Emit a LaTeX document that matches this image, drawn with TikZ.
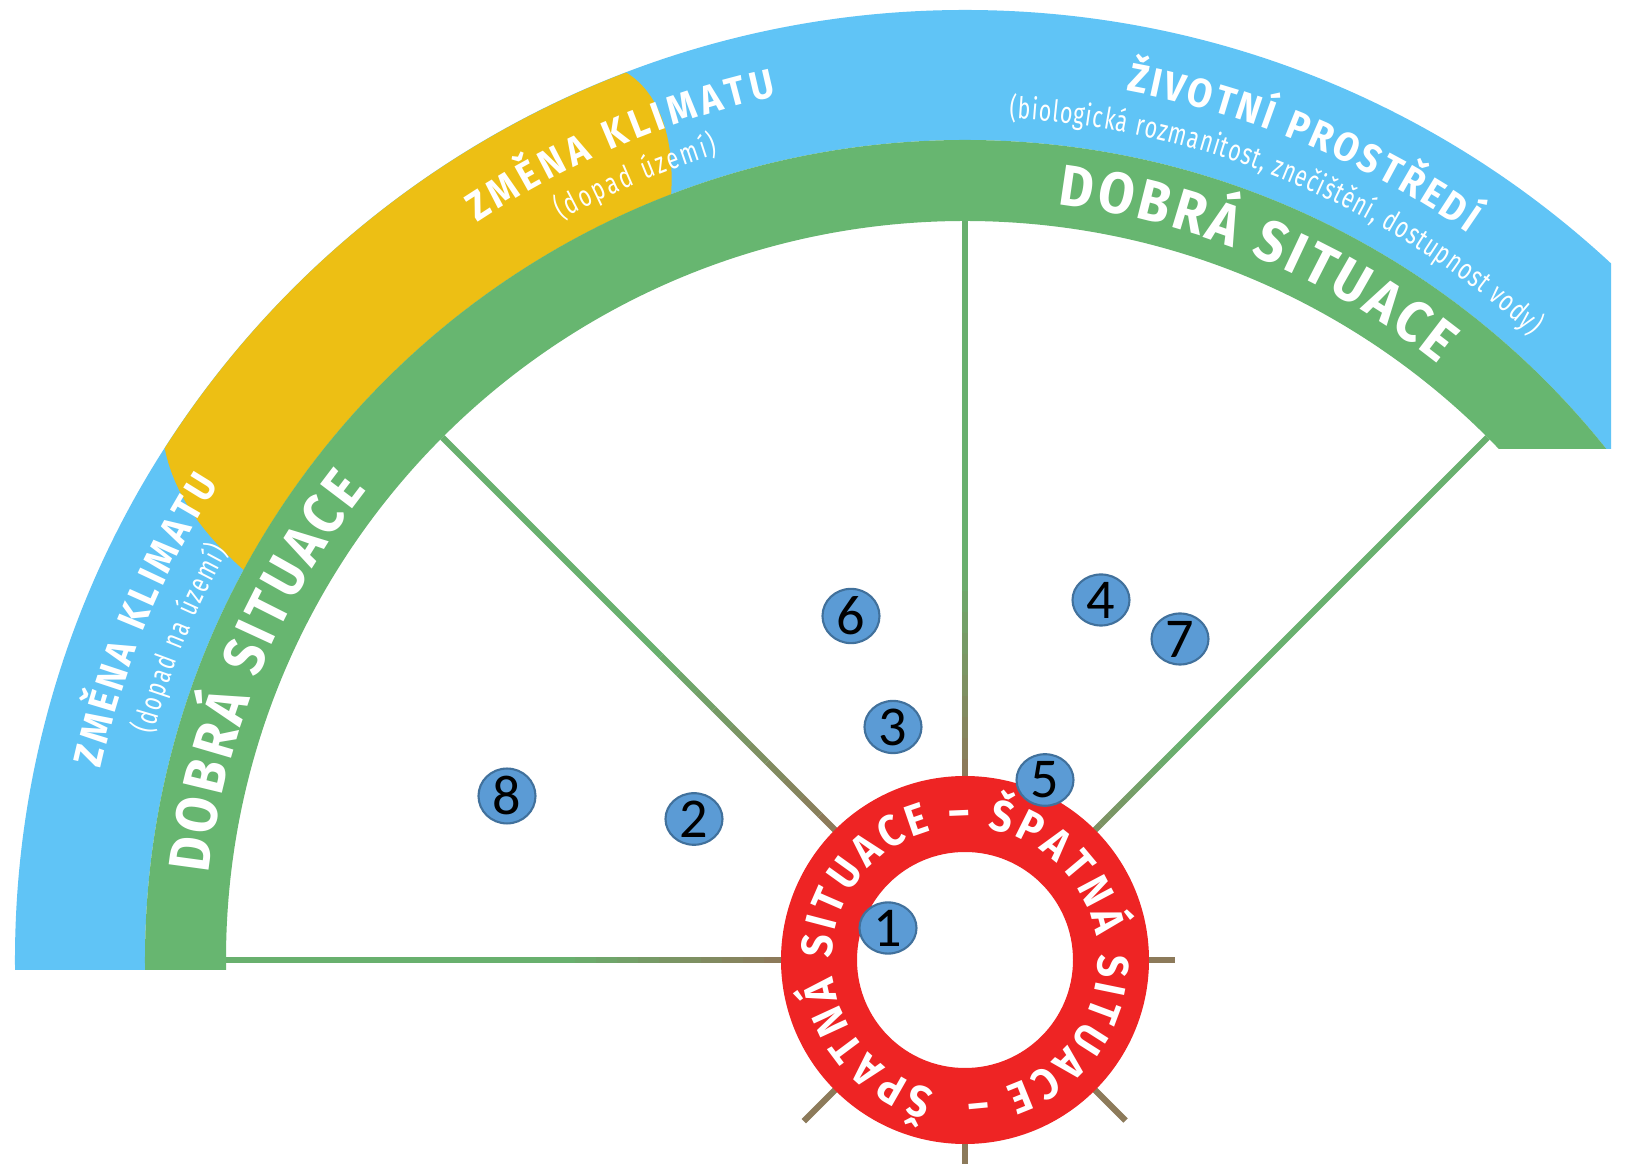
\documentclass[tikz,border=0pt]{standalone}
\usepackage{fontspec}
\usetikzlibrary{shapes.geometric, decorations.text}

\newfontfamily\bandfont[FakeStretch=0.9]{Fira Sans}
\newfontfamily\notefont[FakeStretch=0.72]{Fira Sans}
\newfontfamily\digitfont{Carlito}

\newcommand\dobrafont{\bandfont\bfseries\fontsize{16.5}{18}\selectfont}
\newcommand\titlefont{\bandfont\bfseries\fontsize{11.5}{13}\selectfont}
\newcommand\subfont{\notefont\fontsize{8.5}{10}\selectfont}
\newcommand\ringfont{\bandfont\bfseries\fontsize{12.5}{14}\selectfont}

\definecolor{blueband}{RGB}{96,196,246}
\definecolor{greenband}{RGB}{103,182,112}
\definecolor{yellowband}{RGB}{237,191,20}
\definecolor{ringred}{RGB}{238,36,36}
\definecolor{spokegreen}{RGB}{104,176,110}
\definecolor{spokebrown}{RGB}{140,122,90}
\definecolor{markblue}{RGB}{91,155,213}
\definecolor{markline}{RGB}{65,113,156}

\begin{document}
\begin{tikzpicture}[
	spoke/.style={line width=1.8pt},
	bubble/.style={ellipse, draw=markline, line width=0.6pt, fill=markblue, minimum width=0.57cm, minimum height=0.40cm, inner sep=0pt, font=\digitfont\fontsize{16}{16}\selectfont},
	bandtext/.style={decorate, decoration={text along path, text align=fit to path, text color=white, text={#1}}}]

	\useasboundingbox (-9.65,-2.04) rectangle (6.61,9.60);
	\fill[white] (-9.65,-2.04) rectangle (6.61,9.60);

	\begin{scope}
		\clip (-9.7,-0.10) -- (0,-0.10) -- (0,5.11) -- (6.46,5.11) -- (6.46,9.7) -- (-9.7,9.7) -- cycle;
		\fill[blueband, even odd rule] (0,0) circle (9.5) (0,0) circle (8.2);
		\fill[yellowband] (147.4:9.5) arc[start angle=147.4, end angle=110.9, radius=9.5] .. controls (-3.1,8.7) and (-2.9,8.3) .. (111:8.2) arc[start angle=111, end angle=151.6, radius=8.2] .. controls (-7.55,4.2) and (-7.9,4.6) .. cycle;
		\fill[greenband, even odd rule] (0,0) circle (8.2) (0,0) circle (7.39);
	\end{scope}

	\path[bandtext={|\dobrafont|DOBRÁ SITUACE}] (83:7.61) arc[start angle=83, end angle=51.5, radius=7.61];
	\path[bandtext={|\dobrafont|DOBRÁ SITUACE}] (173.5:7.61) arc[start angle=173.5, end angle=141.8, radius=7.61];
	\path[bandtext={|\titlefont|ZMĚNA KLIMATU}] (123.5:8.84) arc[start angle=123.5, end angle=102.3, radius=8.84];
	\path[bandtext={|\titlefont|ZMĚNA KLIMATU}] (167.5:8.85) arc[start angle=167.5, end angle=147.5, radius=8.85];
	\path[bandtext={|\titlefont|ŽIVOTNÍ PROSTŘEDÍ}] (79.5:8.84) arc[start angle=79.5, end angle=55.3, radius=8.84];
	\path[bandtext={|\subfont|(dopad území)}] (118.6:8.43) arc[start angle=118.6, end angle=107, radius=8.43];
	\path[bandtext={|\subfont|(dopad na území)}] (164.5:8.43) arc[start angle=164.5, end angle=151, radius=8.43];
	\path[bandtext={|\subfont|(biologická rozmanitost, znečištění, dostupnost vody)}] (87:8.43) arc[start angle=87, end angle=47.8, radius=8.43];

	\foreach \a/\f/\s in {180/3.9/0, 135/4.3/0, 90/3.9/0, 45/3.0/40} {
		\foreach \k [evaluate=\k as \p using \s+(100-\s)*\k/10] in {0,...,9}
			\draw[spoke, spokegreen!\p!spokebrown] ({\a}:{1.8+(\f-1.8)*\k/10}) -- ({\a}:{1.8+(\f-1.8)*(\k+1)/10});
		\draw[spoke, spokegreen] (\a:\f) -- (\a:7.39);
	}
	\foreach \a/\r in {0/2.1, 315/2.27, 270/2.12, 225/2.28}
		\draw[spoke, spokebrown] (\a:1.8) -- (\a:\r);

	\fill[ringred, even odd rule] (0,0) circle (1.84) (0,0) circle (1.08);
	\path[bandtext={|\ringfont|ŠPATNÁ SITUACE – ŠPATNÁ SITUACE –}] (257:1.33) arc[start angle=257, end angle=-89, radius=1.33];

	\node[bubble] at (-0.77, 0.32) (m1) {1};
	\node[bubble] at (-2.71, 1.41) (m2) {2};
	\node[bubble] at (-0.72, 2.33) (m3) {3};
	\node[bubble] at (1.36, 3.60) (m4) {4};
	\node[bubble] at (0.80, 1.80) (m5) {5};
	\node[bubble] at (-1.14, 3.44) (m6) {6};
	\node[bubble] at (2.15, 3.21) (m7) {7};
	\node[bubble] at (-4.58, 1.64) (m8) {8};
\end{tikzpicture}
\end{document}
